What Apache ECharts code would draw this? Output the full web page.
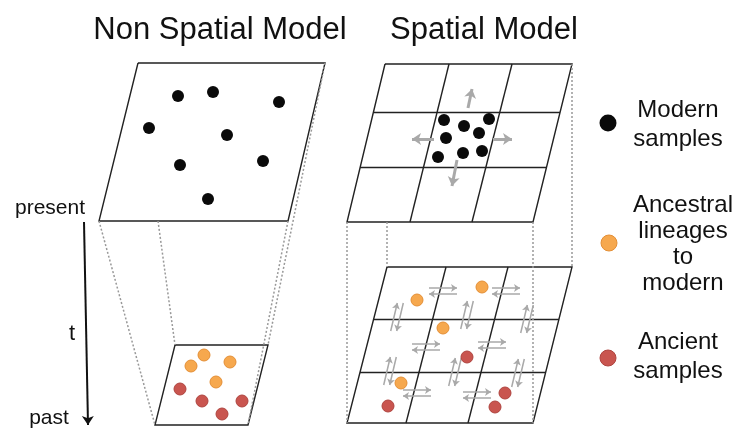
<!DOCTYPE html>
<html><head><meta charset="utf-8">
<script src="https://cdn.jsdelivr.net/npm/echarts@6/dist/echarts.min.js"></script>
<style>html,body{margin:0;padding:0;background:#fff}#c{width:738px;height:430px}</style>
</head><body><div id="c"></div>
<script>
// ---- Diagram data (diagram units = pixel space of the 738x430 frame) ----
const nsTopPlane = [[138,63],[325,63],[288,221],[99,221],[138,63]];
const nsBottomPlane = [[175,345],[268,345],[248,425],[155,425],[175,345]];
const nsProjection = [[[158,221],[175,345]], [[325,63],[268,345]], [[288,221],[248,425]], [[99,221],[155,425]]];
const nsModern = [[178,96],[213,92],[279,102],[149,128],[227,135],[180,165],[263,161],[208,199]];
const nsAncestral = [[204,355],[191,366],[230,362],[216,382]];
const nsAncient = [[180,389],[202,401],[242,401],[222,414]];

const spTopPlane = [[385,64],[572,64],[533,222],[347,222],[385,64]];
const spTopGrid = [[[374,112],[560,112]], [[360,167],[547,167]], [[449,64],[410,222]], [[512,64],[472,222]]];
const spBottomPlane = [[387,267],[572,267],[533,423],[347,423],[387,267]];
const spBottomGrid = [[[374,319],[559,319]], [[360,372],[546,372]], [[446,267],[406,423]], [[508,267],[468,423]]];
const spProjection = [[[347,222],[347,423]], [[387,222],[387,267]], [[533,222],[533,423]], [[572,64],[572,267]]];
const spModern = [[444,120],[464,126],[489,119],[446,138],[479,133],[438,157],[463,153],[482,151]];
const spDispersal = [[[468,108],[472,89]], [[434,139],[412,139]], [[493,139],[512,139]], [[457,160],[452,186]]];
const spAncestral = [[417,300],[482,287],[443,328],[401,383]];
const spAncient = [[467,357],[505,393],[495,407],[388,406]];
const spMigrationH = [[443,291],[506,291],[426,347],[492,345],[417,393],[477,395]];
const spMigrationV = [[397,317],[467,315],[527,319],[390,371],[455,372],[518,373]];

const timeAxis = [[84,222],[88,425]];
const legendItems = ['Modern\nsamples', 'Ancestral\nlineages\nto\nmodern', 'Ancient\nsamples'];
const legendDots = [[608,123],[609,243],[608,358]];
const titles = ['Non Spatial Model', 'Spatial Model'];

const BLACK = '#0a0a0a', ORANGE = '#F6A84E', RED = '#C9554F', GRAY = '#a9a9a9';

// build exchange-arrow pairs around each migration centre
const half = 14, gap = 3, slant = 3.3;
const migArrows = [];
spMigrationH.forEach(([x,y]) => {
  migArrows.push({coords: [[x-half, y-gap],[x+half, y-gap]]});
  migArrows.push({coords: [[x+half, y+gap],[x-half, y+gap]]});
});
spMigrationV.forEach(([x,y]) => {
  migArrows.push({coords: [[x-gap-slant, y+half],[x-gap+slant, y-half]]});
  migArrows.push({coords: [[x+gap+slant, y-half],[x+gap-slant, y+half]]});
});

const toLines = arr => arr.map(c => ({coords: c}));
const FONT = '"Liberation Sans", Arial, Helvetica, sans-serif';
const solid = {opacity: 1};

const chart = echarts.init(document.getElementById('c'), null, {renderer: 'canvas'});
chart.setOption({
  animation: false,
  grid: {left: 0, right: 0, top: 0, bottom: 0},
  xAxis: {type: 'value', min: 0, max: 738, show: false},
  yAxis: {type: 'value', min: 0, max: 430, inverse: true, show: false},
  series: [
    {type: 'lines', coordinateSystem: 'cartesian2d', polyline: true, silent: true,
     lineStyle: {color: '#222', width: 1.4, opacity: 1},
     data: toLines([nsTopPlane, nsBottomPlane, spTopPlane, spBottomPlane])},
    {type: 'lines', coordinateSystem: 'cartesian2d', silent: true,
     lineStyle: {color: '#222', width: 1.4, opacity: 1},
     data: toLines(spTopGrid.concat(spBottomGrid))},
    {type: 'lines', coordinateSystem: 'cartesian2d', silent: true,
     lineStyle: {color: '#999', width: 1.5, type: [2, 2], opacity: 1},
     data: toLines(nsProjection.concat(spProjection))},
    {type: 'lines', coordinateSystem: 'cartesian2d', silent: true,
     symbol: ['none', 'arrow'], symbolSize: [9, 9],
     lineStyle: {color: GRAY, width: 3, opacity: 1},
     data: toLines(spDispersal)},
    {type: 'lines', coordinateSystem: 'cartesian2d', silent: true,
     symbol: ['none', 'arrow'], symbolSize: [6, 6],
     lineStyle: {color: GRAY, width: 1.5, opacity: 1},
     data: migArrows},
    {type: 'lines', coordinateSystem: 'cartesian2d', silent: true,
     symbol: ['none', 'arrow'], symbolSize: [7, 9],
     lineStyle: {color: '#111', width: 2, opacity: 1},
     data: [{coords: timeAxis}]},
    {type: 'scatter', symbolSize: 12, itemStyle: {color: BLACK, opacity: 1}, data: nsModern.concat(spModern), z: 5},
    {type: 'scatter', symbolSize: 12, itemStyle: {color: ORANGE, borderColor: '#E38E35', borderWidth: 1, opacity: 1}, data: nsAncestral.concat(spAncestral), z: 5},
    {type: 'scatter', symbolSize: 12, itemStyle: {color: RED, borderColor: '#AE433E', borderWidth: 1, opacity: 1}, data: nsAncient.concat(spAncient), z: 5},
    {type: 'scatter', symbolSize: 17, itemStyle: {color: BLACK, opacity: 1}, data: [legendDots[0]], z: 5},
    {type: 'scatter', symbolSize: 16, itemStyle: {color: ORANGE, borderColor: '#E38E35', borderWidth: 1, opacity: 1}, data: [legendDots[1]], z: 5},
    {type: 'scatter', symbolSize: 16, itemStyle: {color: RED, borderColor: '#AE433E', borderWidth: 1, opacity: 1}, data: [legendDots[2]], z: 5}
  ],
  graphic: [
    {type: 'text', x: 220, y: 30, style: {text: titles[0], font: '31px ' + FONT, fill: '#111', align: 'center', verticalAlign: 'middle'}},
    {type: 'text', x: 484, y: 30, style: {text: titles[1], font: '31px ' + FONT, fill: '#111', align: 'center', verticalAlign: 'middle'}},
    {type: 'text', x: 50, y: 208, style: {text: 'present', font: '21px ' + FONT, fill: '#111', align: 'center', verticalAlign: 'middle'}},
    {type: 'text', x: 72, y: 334, style: {text: 't', font: '22px ' + FONT, fill: '#111', align: 'center', verticalAlign: 'middle'}},
    {type: 'text', x: 49, y: 418, style: {text: 'past', font: '21px ' + FONT, fill: '#111', align: 'center', verticalAlign: 'middle'}},
    {type: 'text', x: 678, y: 125, style: {text: legendItems[0], font: '24px ' + FONT, lineHeight: 29, fill: '#111', align: 'center', verticalAlign: 'middle'}},
    {type: 'text', x: 683, y: 244, style: {text: legendItems[1], font: '24px ' + FONT, lineHeight: 26, fill: '#111', align: 'center', verticalAlign: 'middle'}},
    {type: 'text', x: 678, y: 357, style: {text: legendItems[2], font: '24px ' + FONT, lineHeight: 29, fill: '#111', align: 'center', verticalAlign: 'middle'}}
  ]
});
</script></body></html>
